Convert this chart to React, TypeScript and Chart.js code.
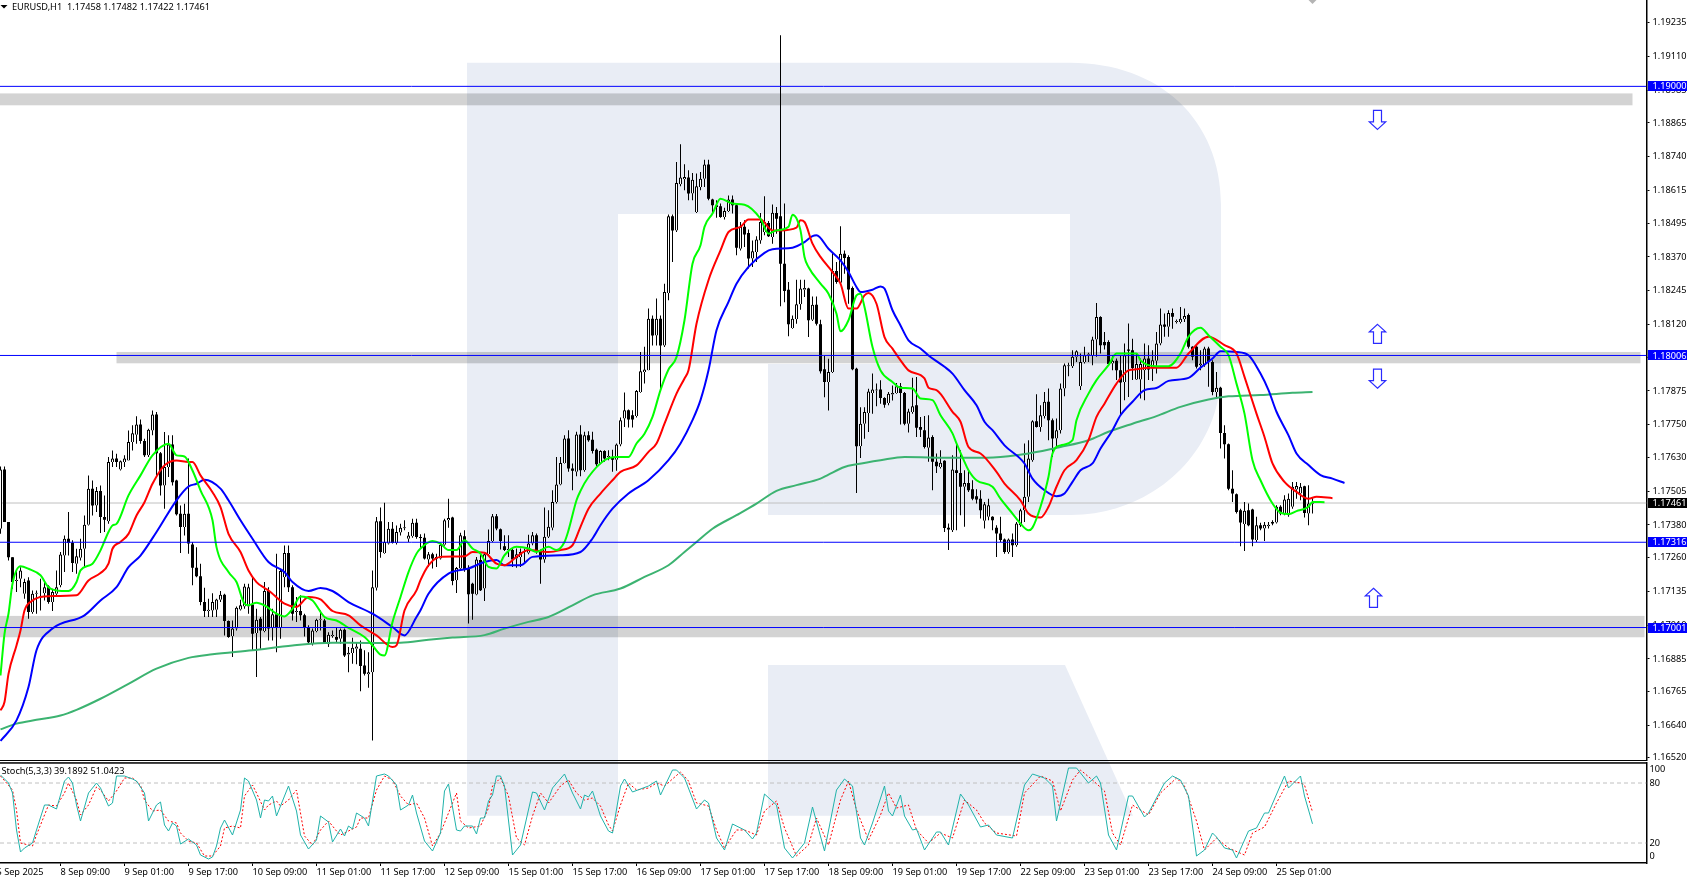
import React, { useEffect, useRef } from "react";
import { Chart, registerables } from "chart.js";

Chart.register(...registerables);

// Prices are held as points: 17461 stands for 1.17461
const opens = [
17366,17585,17391,17261,17173,17181,17126,17175,17058,17126,
17113,17128,17153,17095,17126,17157,17267,17329,17314,17237,
17259,17292,17381,17514,17452,17505,17409,17394,17612,17625,
17585,17612,17618,17686,17713,17751,17690,17637,17729,17788,
17645,17526,17594,17677,17544,17421,17372,17421,17308,17222,
17190,17095,17062,17064,17067,17104,17122,17025,16969,16997,
17068,17079,17079,17086,16981,17033,16988,17136,17000,17050,
17003,17187,17276,17150,17058,17062,17046,17003,16941,16988,
17030,17027,16939,16970,16966,16960,16993,16901,16907,16923,
16923,16861,16828,16836,17148,17394,17276,17311,17366,17313,
17352,17368,17329,17338,17388,17334,17333,17252,17272,17255,
17256,17307,17397,17407,17176,17219,17338,17219,17163,17123,
17250,17145,17272,17321,17412,17364,17301,17287,17287,17256,
17262,17280,17277,17311,17342,17284,17252,17336,17370,17465,
17529,17609,17699,17588,17576,17714,17582,17711,17695,17658,
17607,17653,17631,17629,17621,17677,17773,17804,17785,17782,
17871,17945,17951,18142,18080,18142,18043,18237,18520,18468,
18638,18657,18663,18604,18536,18628,18659,18711,18582,18561,
18557,18517,18540,18582,18561,18400,18481,18458,18364,18388,
18431,18462,18495,18444,18532,18520,18345,18249,18107,18141,
18195,18249,18253,18138,18193,18121,17955,17908,17945,18318,
18275,18382,18370,18255,17957,17671,17754,17793,17867,17877,
17880,17849,17830,17862,17867,17892,17867,17754,17797,17822,
17742,17730,17665,17705,17613,17594,17617,17370,17360,17582,
17572,17521,17535,17512,17486,17477,17395,17410,17410,17370,
17348,17326,17280,17326,17305,17379,17434,17484,17619,17763,
17742,17782,17835,17767,17699,17730,17884,17966,17966,18001,
17892,17982,18009,18007,18065,18148,18056,18056,17976,17986,
17951,17908,18028,18025,17917,17917,17951,17995,17958,17986,
18050,18120,18112,18163,18130,18130,18140,18155,18038,18038,
17970,17970,18032,17982,17871,17887,17720,17678,17514,17493,
17434,17383,17434,17437,17324,17379,17367,17375,17391,17389,
17447,17422,17416,17447,17511,17496,17523,17422,17458];
const highs = [
17596,17596,17391,17261,17215,17224,17181,17187,17138,17138,
17181,17175,17157,17144,17212,17280,17341,17428,17323,17292,
17329,17415,17563,17544,17520,17526,17489,17631,17655,17643,
17618,17637,17729,17748,17781,17769,17698,17735,17803,17797,
17649,17723,17711,17711,17547,17452,17458,17625,17317,17298,
17237,17148,17107,17128,17107,17136,17126,17027,17027,17079,
17104,17163,17163,17187,17070,17040,17169,17150,17070,17274,
17218,17304,17304,17157,17114,17120,17052,17009,16997,17033,
17064,17033,16984,16990,17003,16997,16997,16929,16963,16944,
16953,16917,16910,17212,17409,17444,17462,17391,17391,17378,
17384,17397,17354,17403,17403,17346,17348,17280,17277,17274,
17314,17403,17477,17410,17225,17351,17360,17231,17166,17262,
17274,17280,17363,17420,17420,17367,17342,17342,17293,17293,
17293,17293,17344,17354,17348,17289,17444,17434,17508,17631,
17631,17711,17730,17607,17724,17748,17724,17726,17724,17662,
17656,17656,17656,17658,17681,17777,17869,17806,17804,17878,
18019,18038,18179,18154,18216,18154,18271,18527,18527,18721,
18786,18712,18690,18680,18678,18684,18729,18729,18585,18579,
18567,18552,18597,18597,18567,18499,18505,18471,18431,18446,
18532,18594,18503,18564,18554,19189,18567,18277,18154,18286,
18286,18286,18256,18224,18224,18138,18004,17994,18388,18351,
18483,18394,18376,18261,17961,17815,17815,17883,17939,17902,
17914,17852,17871,17895,17904,17904,17871,17809,17924,17926,
17779,17782,17785,17711,17644,17656,17619,17385,17637,17681,
17656,17582,17582,17545,17512,17508,17465,17477,17412,17379,
17410,17330,17330,17348,17391,17440,17681,17693,17767,17863,
17822,17871,17884,17773,17773,17902,17976,17979,18025,18025,
18013,18038,18016,18075,18200,18151,18093,18062,18007,17995,
18007,18050,18124,18068,18013,17995,18050,18044,18025,18093,
18179,18161,18173,18179,18139,18185,18179,18161,18040,18044,
18025,18038,18038,17988,17945,17890,17748,17681,17582,17496,
17440,17465,17459,17440,17410,17388,17391,17391,17397,17453,
17453,17490,17496,17539,17539,17535,17525,17527,17482];
const lows = [
17347,17391,17249,17144,17132,17150,17107,17033,17052,17052,
17064,17101,17089,17062,17114,17150,17206,17267,17206,17200,
17249,17224,17378,17415,17428,17350,17354,17384,17594,17594,
17581,17594,17618,17655,17680,17680,17631,17631,17711,17563,
17489,17440,17557,17526,17415,17276,17341,17274,17157,17187,
17083,17040,17040,17040,17040,17095,16972,16963,16892,16990,
17064,17070,17052,16917,16818,16923,16984,16953,16953,16910,
16960,17150,17132,17027,17021,17027,16968,16941,16935,16984,
16990,16941,16929,16963,16947,16941,16892,16836,16867,16865,
16766,16824,16779,16584,17138,17259,17274,17308,17311,17308,
17341,17360,17317,17333,17329,17293,17252,17225,17219,17225,
17252,17303,17370,17157,17129,17215,17207,17016,17030,17120,
17136,17099,17268,17316,17360,17289,17284,17262,17225,17222,
17225,17237,17272,17305,17274,17163,17240,17332,17360,17459,
17527,17607,17576,17508,17560,17560,17576,17687,17644,17598,
17604,17613,17619,17576,17580,17671,17742,17740,17740,17777,
17868,17902,17951,18043,18043,17884,18037,18210,18351,18462,
18631,18616,18579,18579,18532,18616,18628,18579,18530,18515,
18515,18508,18536,18530,18376,18394,18407,18327,18333,18351,
18419,18450,18444,18419,18456,18188,18203,18077,18105,18123,
18175,18222,18074,18133,18117,17939,17852,17803,17941,18271,
18271,18308,18197,17951,17498,17627,17698,17723,17791,17818,
17828,17813,17822,17840,17865,17751,17748,17721,17791,17705,
17705,17662,17613,17508,17572,17588,17354,17287,17354,17360,
17416,17373,17502,17471,17459,17404,17367,17397,17360,17262,
17317,17274,17274,17262,17299,17373,17391,17465,17613,17740,
17724,17773,17693,17631,17662,17718,17855,17929,17960,17982,
17878,17976,17982,17970,18001,18013,18028,17970,17951,17915,
17785,17841,17853,17915,17915,17847,17841,17915,17912,17939,
18044,18075,18075,18105,18124,18124,18130,18032,17988,17958,
17951,17964,17890,17859,17847,17662,17625,17508,17465,17422,
17301,17284,17375,17301,17317,17360,17321,17367,17379,17385,
17416,17416,17410,17440,17477,17471,17407,17379,17422];
const closes = [
17585,17391,17261,17169,17177,17212,17169,17058,17126,17128,
17116,17150,17095,17132,17150,17271,17329,17313,17239,17264,
17292,17381,17514,17452,17505,17409,17399,17612,17625,17612,
17615,17625,17686,17719,17751,17690,17637,17732,17788,17645,
17526,17594,17677,17538,17419,17372,17421,17311,17222,17190,
17095,17062,17067,17095,17105,17122,17025,16966,16997,17074,
17083,17153,17150,16978,17030,16990,17136,16997,17050,17000,
17210,17276,17150,17052,17060,17046,17003,16947,16990,17030,
17031,16941,16974,16971,16956,16993,16898,16908,16926,16931,
16859,16830,16836,17150,17394,17280,17317,17366,17313,17354,
17370,17369,17341,17388,17335,17332,17256,17272,17256,17262,
17307,17397,17406,17173,17221,17342,17216,17124,17126,17252,
17139,17272,17321,17412,17367,17321,17287,17288,17252,17272,
17280,17281,17311,17342,17280,17252,17336,17373,17465,17529,
17609,17699,17588,17580,17714,17582,17711,17693,17653,17604,
17653,17625,17632,17621,17677,17767,17804,17769,17769,17875,
17948,17954,18142,18080,18142,18043,18240,18520,18468,18643,
18663,18665,18604,18655,18631,18659,18711,18585,18561,18554,
18517,18540,18582,18561,18404,18481,18453,18364,18391,18434,
18499,18499,18446,18533,18511,18345,18244,18121,18142,18195,
18253,18255,18136,18193,18123,17948,17908,17945,18318,18277,
18382,18366,18250,17955,17671,17754,17797,17873,17880,17878,
17849,17824,17865,17867,17892,17867,17754,17799,17818,17739,
17732,17668,17703,17613,17597,17610,17369,17363,17585,17572,
17521,17535,17508,17477,17474,17434,17456,17453,17397,17348,
17324,17280,17326,17305,17385,17434,17484,17625,17763,17742,
17785,17835,17767,17699,17730,17884,17970,17970,18001,18022,
17982,18007,18010,18065,18148,18044,18044,17974,17986,17951,
17906,18007,18023,17960,17974,17974,17995,17954,17988,18050,
18120,18112,18163,18149,18131,18142,18152,18038,18001,17964,
17976,18032,17982,17871,17887,17720,17678,17514,17496,17428,
17389,17432,17379,17326,17379,17367,17381,17381,17385,17447,
17422,17474,17477,17521,17524,17521,17424,17459,17461];

const lipsIdx = [0,1,2,3,5,7,10,12,14,17,19,20,23,25,27,28,29,32,35,38,42,44,46,48,50,53,54,57,59,61,62,64,66,69,71,73,75,78,81,84,87,91,93,95,96,98,100,102,104,105,108,110,112,114,116,118,120,122,124,126,129,132,134,137,139,141,142,144,145,147,151,154,157,159,161,163,165,167,169,171,173,175,176,178,180,183,186,190,192,194,197,198,200,201,202,205,207,209,210,212,214,215,216,218,220,223,225,228,230,233,235,238,239,241,242,244,248,250,253,255,257,258,260,262,263,265,268,269,272,274,277,279,284,285,289,292,295,297,300,302,305,307,309,311,313,315,318,320,322,324,327,328,331];
const lipsVal = [16824,16978,17052,17163,17227,17218,17194,17150,17138,17136,17169,17212,17237,17286,17354,17378,17384,17489,17563,17637,17680,17637,17633,17581,17508,17397,17298,17206,17169,17089,17083,17093,17083,17052,17042,17070,17116,17101,17040,17027,17000,16966,16935,16901,16898,17021,17114,17206,17274,17293,17321,17311,17287,17287,17323,17293,17274,17225,17219,17268,17299,17293,17280,17299,17287,17317,17360,17471,17506,17557,17619,17631,17631,17681,17717,17779,17878,17954,18000,18136,18345,18413,18481,18530,18585,18567,18563,18511,18456,18468,18481,18526,18468,18370,18333,18271,18234,18160,18095,18136,18228,18234,18185,18037,17951,17908,17887,17884,17847,17841,17785,17718,17681,17613,17582,17545,17521,17477,17422,17385,17360,17370,17447,17558,17644,17674,17693,17767,17865,17915,17970,18013,18013,17988,17966,17966,18013,18075,18108,18081,18038,18007,17902,17791,17619,17545,17459,17425,17420,17431,17447,17465,17464];

const teethIdx = [0,1,2,4,5,6,8,10,12,19,22,25,27,28,30,32,34,36,38,41,44,47,48,50,53,55,57,60,62,64,66,67,71,74,77,80,83,87,90,94,98,99,101,104,105,107,110,116,118,121,124,126,129,132,137,140,143,145,147,150,153,155,159,162,164,166,169,171,172,174,177,180,182,185,187,190,193,195,199,200,201,203,205,208,210,212,214,216,217,219,221,223,225,227,231,232,234,238,240,242,245,249,251,255,257,260,262,264,266,269,272,274,276,279,282,284,287,292,294,297,302,306,309,311,314,316,318,321,324,327,329,333];
const teethVal = [16695,16726,16830,16935,16990,17064,17101,17114,17117,17120,17175,17202,17237,17292,17317,17347,17415,17464,17532,17600,17618,17612,17612,17563,17501,17446,17347,17280,17212,17169,17147,17138,17089,17077,17114,17105,17062,17046,17009,16972,16929,16935,17064,17138,17176,17231,17262,17264,17280,17277,17237,17231,17262,17287,17280,17287,17305,17373,17440,17496,17545,17576,17600,17650,17681,17754,17865,17921,17951,18123,18284,18394,18462,18481,18508,18508,18468,18468,18478,18505,18499,18419,18370,18314,18271,18179,18179,18228,18237,18197,18074,18031,17988,17951,17921,17887,17878,17798,17761,17668,17644,17576,17533,17471,17422,17407,17447,17521,17582,17619,17693,17779,17828,17902,17951,17955,17961,17961,17961,18013,18075,18044,18013,17927,17791,17705,17607,17539,17502,17477,17484,17479];

const jawIdx = [0,4,7,9,13,21,25,29,32,35,39,44,47,49,51,55,57,60,63,67,71,73,77,80,83,87,93,98,101,104,105,107,112,117,121,124,126,130,133,140,145,148,150,153,157,162,167,170,173,175,177,179,182,184,187,191,193,198,201,203,204,207,210,212,214,215,218,220,221,223,225,227,230,232,236,238,241,244,246,248,251,256,258,261,264,266,268,270,273,275,278,280,283,286,289,292,297,300,303,305,309,312,315,317,319,322,324,327,330,333,336];
const jawVal = [16582,16658,16781,16917,16997,17046,17101,17150,17224,17267,17354,17471,17522,17532,17547,17514,17471,17397,17329,17243,17206,17169,17136,17147,17136,17095,17052,17003,16972,17040,17065,17126,17200,17219,17243,17250,17231,17231,17262,17268,17280,17330,17379,17440,17496,17545,17619,17681,17767,17841,17951,18099,18204,18271,18333,18385,18398,18404,18425,18447,18450,18400,18357,18314,18259,18240,18249,18261,18253,18173,18117,18062,18032,18006,17964,17939,17878,17822,17761,17730,17674,17607,17551,17508,17486,17496,17539,17582,17607,17662,17730,17785,17835,17878,17886,17912,17923,17961,17995,18022,18019,18007,17939,17878,17798,17711,17644,17601,17564,17551,17535];

const emaIdx = [0,4,9,15,19,25,32,39,47,53,63,73,83,92,100,107,113,121,126,132,137,143,148,155,161,167,171,174,178,184,189,194,199,205,207,211,214,220,226,238,245,252,257,265,272,277,283,289,295,302,307,315,323,328];
const emaVal = [16625,16646,16660,16676,16697,16738,16793,16849,16889,16902,16917,16935,16945,16944,16945,16956,16964,16973,16997,17022,17040,17083,17120,17145,17188,17231,17280,17317,17366,17416,17459,17506,17527,17551,17566,17594,17604,17619,17631,17628,17628,17634,17644,17668,17693,17724,17754,17782,17816,17843,17855,17860,17868,17871];

const stochIdx = [0,2,3,4,5,6,8,9,11,12,14,16,17,18,19,20,22,24,25,27,28,29,31,33,34,36,37,39,40,41,42,43,44,45,47,49,50,52,53,54,55,56,58,60,61,62,64,65,66,67,68,69,72,74,75,77,79,80,82,83,85,86,87,88,89,91,92,94,96,97,99,100,102,103,104,106,108,110,111,112,114,115,116,118,119,120,121,122,123,124,125,126,128,130,133,134,136,138,141,143,145,146,147,148,150,152,153,155,156,158,162,164,165,168,169,171,174,176,177,179,181,183,186,188,189,191,194,196,198,201,203,206,209,211,213,215,216,218,221,222,223,225,226,228,229,231,234,235,237,240,242,245,247,249,253,256,258,261,263,264,267,269,270,272,274,275,277,279,282,283,286,287,291,293,295,297,299,301,303,304,306,308,309,312,314,316,317,320,321,322,325,326,328];
const stochVal = [88,80,70,33,11,15,20,33,58,58,54,82,86,80,58,42,70,80,75,57,60,87,87,84,82,70,42,58,61,38,32,40,37,19,24,18,8,4,6,17,35,43,28,53,85,82,63,45,63,62,67,47,77,52,28,14,23,47,41,21,34,27,37,34,50,45,37,87,89,87,78,53,58,68,50,22,12,30,72,79,33,32,37,37,29,45,45,62,68,87,87,77,8,18,71,70,53,75,89,70,54,68,66,72,47,32,30,77,84,71,77,82,68,93,93,85,54,63,60,25,13,39,33,24,30,69,58,15,5,20,56,12,73,84,77,25,18,40,77,52,47,68,47,33,34,13,31,31,18,69,58,36,38,28,25,78,89,85,77,42,95,95,90,80,87,80,28,13,67,67,46,50,80,87,83,67,7,13,30,26,15,13,5,32,35,50,50,78,87,75,87,67,39.1892];

const signalIdx = [0,3,4,5,8,9,11,12,14,16,17,19,20,22,24,25,27,29,31,33,35,36,38,40,42,44,45,47,49,51,53,55,56,58,60,61,63,64,66,67,69,70,72,74,75,76,78,80,82,84,85,87,89,90,92,94,96,98,100,102,104,106,108,110,112,114,115,117,120,122,123,125,127,129,131,133,135,137,140,142,144,146,148,150,152,153,155,157,159,162,164,166,170,172,174,177,179,181,184,186,189,191,194,196,199,202,204,207,210,212,214,217,220,222,224,227,229,232,235,238,241,244,246,249,254,256,260,263,265,268,270,273,276,278,280,283,287,290,294,296,299,301,304,307,311,313,316,319,322,325,326,328];
const signalVal = [87,73,53,20,17,28,48,58,57,70,80,63,48,58,76,73,62,72,85,85,78,63,52,53,42,40,30,22,20,7,7,17,35,37,35,67,78,70,53,58,62,57,63,73,50,27,18,33,42,32,28,32,36,45,45,73,87,83,67,58,60,45,17,30,50,70,42,35,37,55,77,85,67,25,18,47,70,60,77,83,70,63,65,57,38,32,58,80,73,75,80,77,91,82,60,57,33,15,33,33,28,52,62,35,7,18,45,18,63,82,53,23,48,70,55,58,33,20,30,25,63,53,40,30,27,70,87,82,52,83,93,83,72,30,18,58,48,70,85,77,42,13,25,15,8,30,36,60,82,80,78,51.0423];

const priceTickPoints = [19235,19110,18985,18865,18740,18615,18495,18370,18245,18120,18000,17875,17750,17630,17505,17380,17260,17135,17010,16885,16765,16640,16520];
const stochTickSpots = [94,80,20,6.6];
const stochTickLabels = ["100","80","20","0"];
const timeTickBars = [-1,15,31,47,63,79,95,111,127,143,159,175,191,207,223,239,255,271,287,303,319];
const timeTickLabels = ["5 Sep 2025","8 Sep 09:00","9 Sep 01:00","9 Sep 17:00","10 Sep 09:00","11 Sep 01:00","11 Sep 17:00","12 Sep 09:00","15 Sep 01:00","15 Sep 17:00","16 Sep 09:00","17 Sep 01:00","17 Sep 17:00","18 Sep 09:00","19 Sep 01:00","19 Sep 17:00","22 Sep 09:00","23 Sep 01:00","23 Sep 17:00","24 Sep 09:00","25 Sep 01:00"];

const levelPoints = [19000,18006,17316,17001];
const lastPoint = 17461;
const bandTops = [18974,18019,17044];
const bandBottoms = [18930,17977,16965];
const bandFromBar = [-1,29,-1];
const bandToBar = [408,410,411];
const arrowBars = [344,344,344,343];
const arrowTips = [18841,18121,17885,17146];
const arrowDirs = ["down","up","down","up"];

const toPrice = (p: number) => 1 + p / 100000;
const pts = (idx: number[], val: number[]) => idx.map((x, k) => ({ x, y: toPrice(val[k]) }));
const plain = (idx: number[], val: number[]) => idx.map((x, k) => ({ x, y: val[k] }));

const X_MIN = -0.125;
const X_MAX = X_MIN + 1646.5 / 4;
const FONT_FAMILY = "Noto Sans";
const FONT_SIZE = 9.2;
const FONT = `${FONT_SIZE}px "${FONT_FAMILY}"`;
const AXIS_W = 40.5;

const fixWidth = (s: any) => {
  s.width = AXIS_W;
  s.paddingTop = 0;
  s.paddingBottom = 0;
};

const line = (data: any[], color: string, width: number, order: number, dash?: number[]) => ({
  type: "line",
  data,
  borderColor: color,
  borderWidth: width,
  borderDash: dash || [],
  pointRadius: 0,
  tension: 0,
  order,
  borderJoinStyle: "round",
  fill: false,
});

const curve = (data: any[], color: string, order: number) => ({
  ...line(data, color, 2, order),
  cubicInterpolationMode: "monotone",
});

const mainPlugin = {
  id: "mainDecor",
  beforeDatasetsDraw(c: any) {
    const { ctx, scales } = c;
    ctx.save();
    ctx.fillStyle = "rgba(0,0,0,0.172)";
    bandTops.forEach((t, k) => {
      const x1 = scales.x.getPixelForValue(bandFromBar[k]);
      const x2 = scales.x.getPixelForValue(bandToBar[k]);
      const y1 = scales.y.getPixelForValue(toPrice(t));
      const y2 = scales.y.getPixelForValue(toPrice(bandBottoms[k]));
      ctx.fillRect(x1, y1, x2 - x1, y2 - y1);
    });
    ctx.restore();
  },
  afterDraw(c: any) {
    const { ctx, scales, chartArea } = c;
    ctx.save();
    // arrows
    ctx.strokeStyle = "#2a2aff";
    ctx.lineWidth = 1.2;
    arrowTips.forEach((t, k) => {
      const x = Math.round(scales.x.getPixelForValue(arrowBars[k])) + 0.5;
      const y = scales.y.getPixelForValue(toPrice(t));
      const d = arrowDirs[k] === "down" ? -1 : 1;
      ctx.beginPath();
      ctx.moveTo(x, y);
      ctx.lineTo(x + 8.2, y + d * 7.5);
      ctx.lineTo(x + 4, y + d * 7.5);
      ctx.lineTo(x + 4, y + d * 19);
      ctx.lineTo(x - 4, y + d * 19);
      ctx.lineTo(x - 4, y + d * 7.5);
      ctx.lineTo(x - 8.2, y + d * 7.5);
      ctx.closePath();
      ctx.stroke();
    });
    // chart object clipped by the top edge
    const mx = scales.x.getPixelForValue(328);
    ctx.fillStyle = "#b4b4b4";
    ctx.beginPath();
    ctx.moveTo(mx - 4, 0);
    ctx.lineTo(mx + 4, 0);
    ctx.lineTo(mx, 4);
    ctx.closePath();
    ctx.fill();
    // lower frame
    ctx.fillStyle = "#000";
    ctx.fillRect(0, chartArea.bottom - 1, chartArea.right, 1.5);
    // price tags
    ctx.font = FONT;
    ctx.textAlign = "left";
    ctx.textBaseline = "middle";
    const tag = (p: number, bg: string) => {
      const y = scales.y.getPixelForValue(toPrice(p));
      ctx.fillStyle = bg;
      ctx.fillRect(1648, Math.round(y - 5), 39, 10);
      ctx.fillStyle = "#fff";
      ctx.fillText(toPrice(p).toFixed(5), 1652.5, y + 0.5);
    };
    levelPoints.forEach((p) => tag(p, "#0000ff"));
    tag(lastPoint, "#000000");
    // header
    ctx.fillStyle = "#000";
    ctx.beginPath();
    ctx.moveTo(0.5, 5);
    ctx.lineTo(7.5, 5);
    ctx.lineTo(4, 8.5);
    ctx.closePath();
    ctx.fill();
    ctx.fillText("EURUSD,H1  1.17458 1.17482 1.17422 1.17461", 12, 7);
    ctx.restore();
  },
};

const stochPlugin = {
  id: "stochDecor",
  afterDraw(c: any) {
    const { ctx, chartArea } = c;
    ctx.save();
    ctx.fillStyle = "#000";
    ctx.fillRect(0, chartArea.top - 0.8, chartArea.right, 1.5);
    ctx.font = FONT;
    ctx.textAlign = "left";
    ctx.textBaseline = "middle";
    ctx.fillText("Stoch(5,3,3) 39.1892 51.0423", 1.5, 771.7 - 761);
    ctx.restore();
  },
};

export default function App() {
  const mainRef = useRef<HTMLCanvasElement>(null);
  const subRef = useRef<HTMLCanvasElement>(null);

  useEffect(() => {
    const bars = opens.map((_, i) => i);
    const wicks = bars.map((i) => ({ x: i, y: [toPrice(lows[i]), toPrice(highs[i])] }));
    const ups = bars.filter((i) => closes[i] >= opens[i]).map((i) => ({ x: i, y: [toPrice(opens[i]), toPrice(closes[i])] }));
    const downs = bars.filter((i) => closes[i] < opens[i]).map((i) => ({ x: i, y: [toPrice(closes[i]), toPrice(opens[i])] }));
    const span = (p: number) => [{ x: X_MIN, y: toPrice(p) }, { x: X_MAX, y: toPrice(p) }];

    const main = new Chart(mainRef.current as any, {
      type: "bar",
      data: {
        datasets: [
          ...levelPoints.map((p) => line(span(p), "#0000ff", 1, 1)),
          curve(pts(lipsIdx, lipsVal), "#00ff00", 2),
          curve(pts(teethIdx, teethVal), "#ff0000", 3),
          curve(pts(jawIdx, jawVal), "#0000ff", 4),
          curve(pts(emaIdx, emaVal), "#3cb371", 5),
          {
            data: ups,
            backgroundColor: "#ffffff",
            borderColor: "#000000",
            borderWidth: 1,
            barThickness: 3,
            inflateAmount: 0,
            minBarLength: 1,
            grouped: false,
            order: 6,
          },
          {
            data: downs,
            backgroundColor: "#000000",
            borderWidth: 0,
            barThickness: 3,
            inflateAmount: 0,
            minBarLength: 1,
            grouped: false,
            order: 7,
          },
          {
            data: wicks,
            backgroundColor: "#000000",
            borderWidth: 0,
            barThickness: 1,
            inflateAmount: 0,
            grouped: false,
            order: 8,
          },
          line(span(lastPoint), "#c0c0c0", 1, 9),
        ],
      } as any,
      options: {
        responsive: false,
        animation: false,
        devicePixelRatio: 1,
        layout: { padding: 0 },
        plugins: { legend: { display: false }, tooltip: { enabled: false }, title: { display: false } },
        scales: {
          x: {
            type: "linear",
            offset: false,
            min: X_MIN,
            max: X_MAX,
            display: false,
            grid: { offset: false },
          },
          y: {
            position: "right",
            min: 1.16508,
            max: 1.19319,
            afterFit: fixWidth,
            afterBuildTicks: (s: any) => {
              s.ticks = priceTickPoints.map((p) => ({ value: toPrice(p) }));
            },
            grid: { drawOnChartArea: false, drawTicks: true, tickLength: 3, color: "#000" },
            border: { display: true, color: "#000", width: 1.5 },
            ticks: {
              autoSkip: false,
              padding: 3,
              color: "#000",
              font: { family: FONT_FAMILY, size: FONT_SIZE },
              callback: (v: any) => Number(v).toFixed(5),
            },
          },
        },
      } as any,
      plugins: [mainPlugin] as any,
    });

    const sub = new Chart(subRef.current as any, {
      type: "line",
      data: {
        datasets: [
          line(plain(stochIdx, stochVal), "#20b2aa", 1, 1),
          line(plain(signalIdx, signalVal), "#ff0000", 1, 2, [2, 2]),
          line([{ x: X_MIN, y: 80 }, { x: X_MAX, y: 80 }], "#c0c0c0", 1, 3, [4, 3]),
          line([{ x: X_MIN, y: 20 }, { x: X_MAX, y: 20 }], "#c0c0c0", 1, 3, [4, 3]),
        ],
      } as any,
      options: {
        responsive: false,
        animation: false,
        devicePixelRatio: 1,
        layout: { padding: { top: 2, left: 0, right: 0, bottom: 0 } },
        plugins: { legend: { display: false }, tooltip: { enabled: false }, title: { display: false } },
        scales: {
          x: {
            type: "linear",
            position: "bottom",
            min: X_MIN,
            max: X_MAX,
            afterFit: (s: any) => {
              s.height = 18;
              s.paddingLeft = 0;
              s.paddingRight = 0;
            },
            afterBuildTicks: (s: any) => {
              s.ticks = timeTickBars.map((b) => ({ value: b }));
            },
            afterTickToLabelConversion: (s: any) => {
              s.ticks.forEach((t: any, k: number) => {
                t.label = timeTickLabels[k];
              });
            },
            grid: { drawOnChartArea: false, drawTicks: true, tickLength: 3, color: "#000" },
            border: { display: true, color: "#000", width: 1.5 },
            ticks: {
              autoSkip: false,
              maxRotation: 0,
              minRotation: 0,
              align: "start",
              padding: 1,
              color: "#000",
              font: { family: FONT_FAMILY, size: FONT_SIZE },
            },
          },
          y: {
            position: "right",
            min: 0,
            max: 100,
            afterFit: fixWidth,
            afterBuildTicks: (s: any) => {
              s.ticks = stochTickSpots.map((v) => ({ value: v }));
            },
            afterTickToLabelConversion: (s: any) => {
              s.ticks.forEach((t: any, k: number) => {
                t.label = stochTickLabels[k];
              });
            },
            grid: { drawOnChartArea: false, drawTicks: false },
            border: { display: true, color: "#000", width: 1.5 },
            ticks: {
              autoSkip: false,
              padding: 3,
              color: "#000",
              font: { family: FONT_FAMILY, size: FONT_SIZE },
            },
          },
        },
      } as any,
      plugins: [stochPlugin] as any,
    });

    return () => {
      main.destroy();
      sub.destroy();
    };
  }, []);

  return (
    <div style={{ position: "fixed", left: 0, top: 0, width: 1687, height: 881, background: "#fff", overflow: "hidden" }}>
      <svg width={1687} height={881} style={{ position: "absolute", left: 0, top: 0 }}>
        <path
          fill="#e9edf5"
          d="M467 62.7H1070C1160 62.7 1221 120 1221 205V370C1221 455 1150 515 1071 515H768V364H1070V214H618V815.7H467Z"
        />
        <path fill="#e9edf5" d="M768 665H1065L1133 815.7H768Z" />
      </svg>
      <canvas ref={mainRef} width={1687} height={761} style={{ position: "absolute", left: 0, top: 0, display: "block" }} />
      <canvas ref={subRef} width={1687} height={120} style={{ position: "absolute", left: 0, top: 761, display: "block" }} />
    </div>
  );
}
